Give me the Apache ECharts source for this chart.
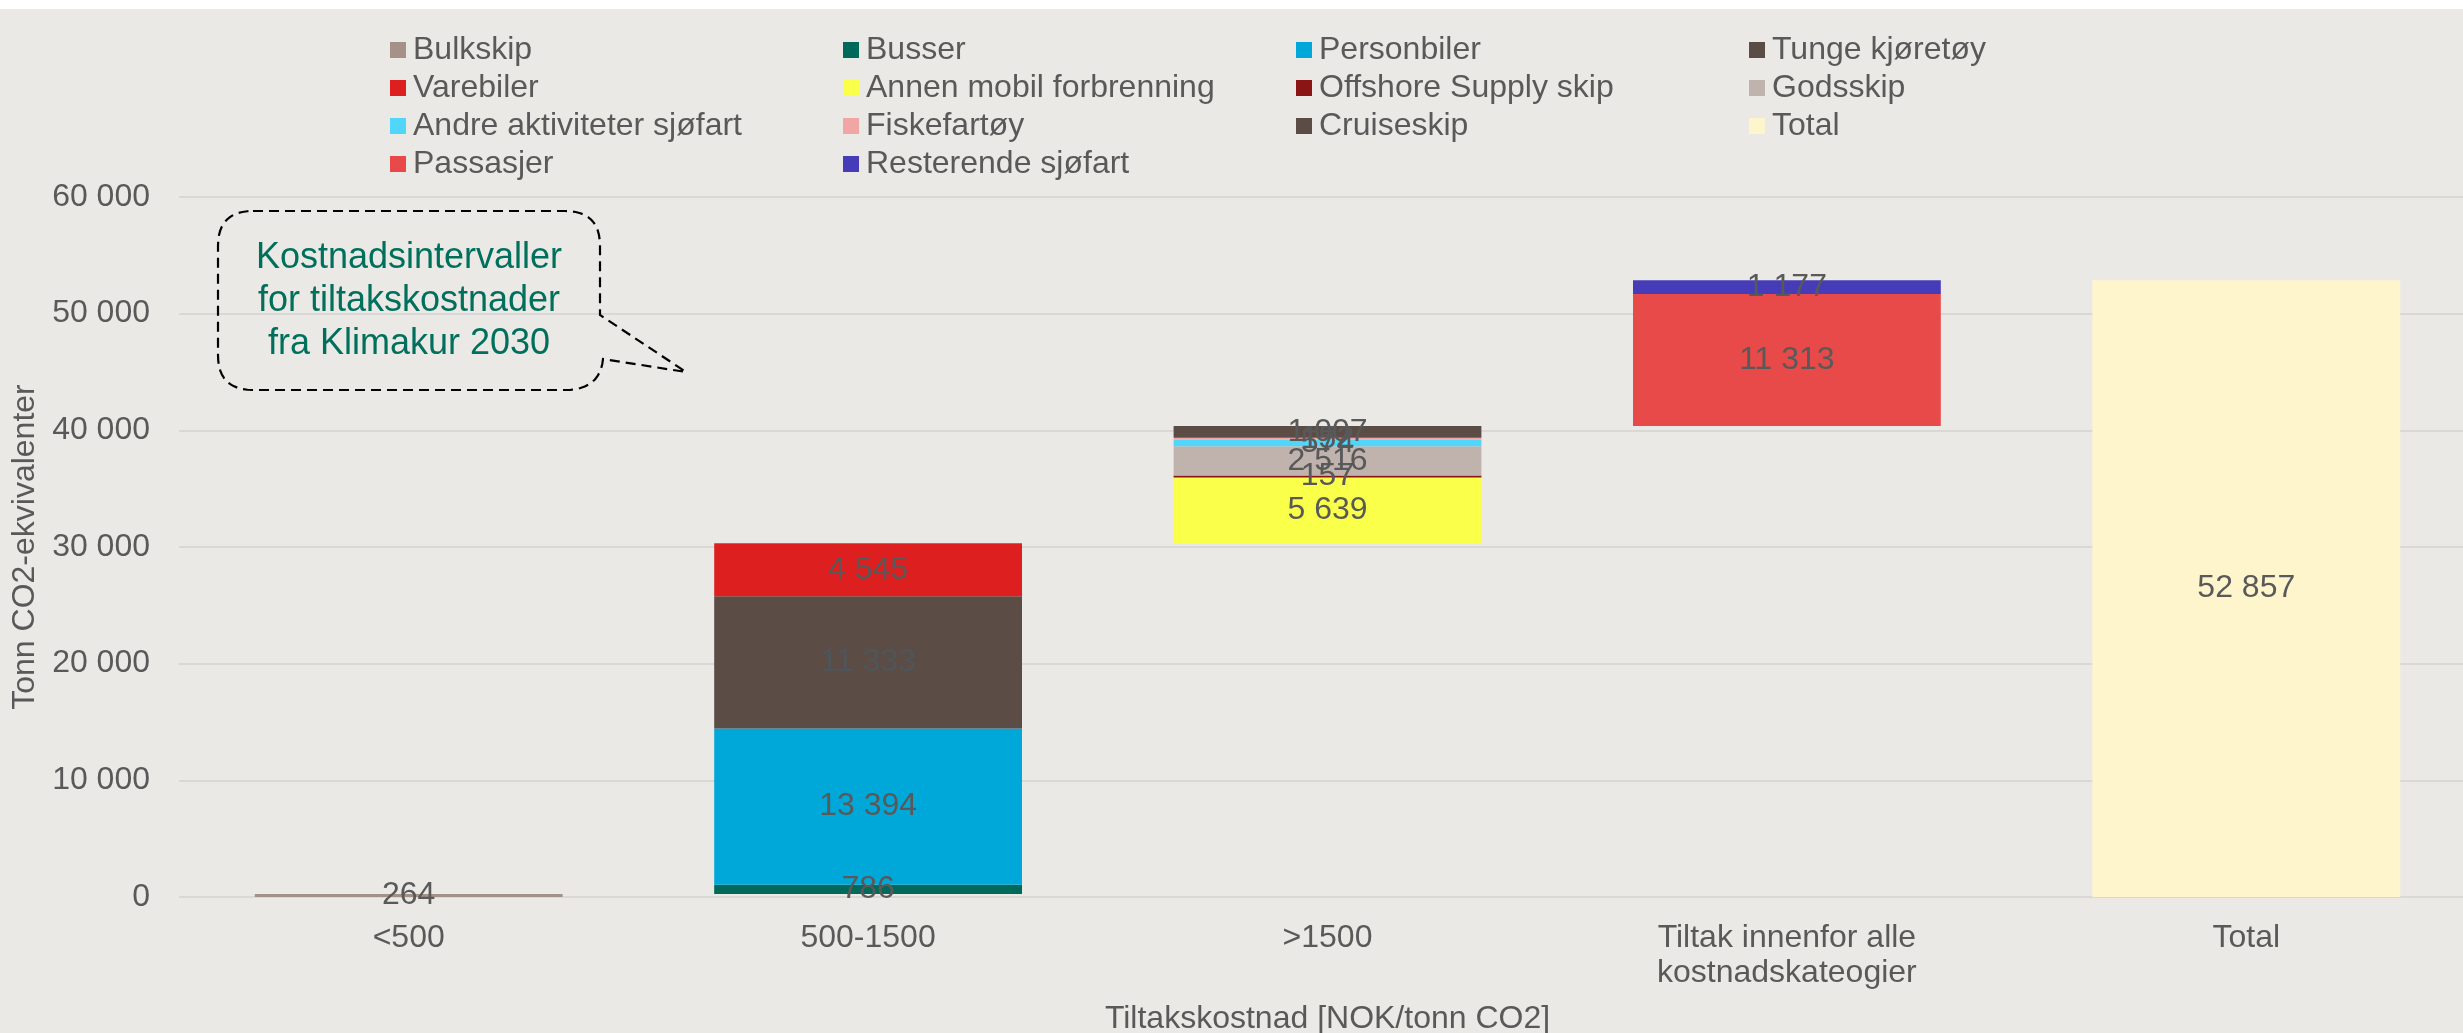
<!DOCTYPE html>
<html>
<head>
<meta charset="utf-8">
<script src="https://cdn.jsdelivr.net/npm/echarts@6/dist/echarts.min.js"></script>
<style>
html,body{margin:0;padding:0;background:#ffffff;}
#chart{width:2463px;height:1033px;}
</style>
</head>
<body>
<div id="chart"></div>
<script>
const categories = ['<500', '500-1500', '>1500', 'Tiltak innenfor alle\nkostnadskateogier', 'Total'];
const yTicks = [0, 10000, 20000, 30000, 40000, 50000, 60000];
// invisible offsets of the waterfall
const base = [0, 264, 30322, 40367, 0];
const bulkskip = [264, '-', '-', '-', '-'];
const busser = ['-', 786, '-', '-', '-'];
const personbiler = ['-', 13394, '-', '-', '-'];
const tungeKjoretoy = ['-', 11333, '-', '-', '-'];
const varebiler = ['-', 4545, '-', '-', '-'];
const annenMobil = ['-', '-', 5639, '-', '-'];
const offshoreSupply = ['-', '-', 157, '-', '-'];
const godsskip = ['-', '-', 2516, '-', '-'];
const andreAktiviteter = ['-', '-', 574, '-', '-'];
const fiskefartoy = ['-', '-', 152, '-', '-'];
const cruiseskip = ['-', '-', 1007, '-', '-'];
const passasjer = ['-', '-', '-', 11313, '-'];
const resterende = ['-', '-', '-', 1177, '-'];
const total = ['-', '-', '-', '-', 52857];

const FONT = '"Liberation Sans", Arial, sans-serif';
const TXT = '#595959';
const FS = 32;
const fmt = v => String(v).replace(/\B(?=(\d{3})+(?!\d))/g, ' ');

const seriesDefs = [
  ['Bulkskip', bulkskip, '#A69189'],
  ['Busser', busser, '#006A5A'],
  ['Personbiler', personbiler, '#00A8DA'],
  ['Tunge kjøretøy', tungeKjoretoy, '#5B4D46', '#4F555A'],
  ['Varebiler', varebiler, '#DE1F1F'],
  ['Annen mobil forbrenning', annenMobil, '#FAFF4A'],
  ['Offshore Supply skip', offshoreSupply, '#8B1414'],
  ['Godsskip', godsskip, '#C0B3AE'],
  ['Andre aktiviteter sjøfart', andreAktiviteter, '#4FD6FA'],
  ['Fiskefartøy', fiskefartoy, '#F2A5A5'],
  ['Cruiseskip', cruiseskip, '#5B4D46'],
  ['Passasjer', passasjer, '#E84A4A'],
  ['Resterende sjøfart', resterende, '#463CB8'],
  ['Total', total, '#FFF5CC']
];

const series = [{
  name: 'base', type: 'bar', stack: 'w', data: base, barWidth: '67%',
  itemStyle: { color: 'rgba(0,0,0,0)' }, label: { show: false },
  emphasis: { disabled: true }, silent: true
}];
seriesDefs.forEach(([name, data, color, lblColor]) => {
  series.push({
    name, type: 'bar', stack: 'w', data, barWidth: '67%',
    itemStyle: { color },
    emphasis: { disabled: true },
    label: {
      show: true, position: 'inside', color: lblColor || TXT,
      fontFamily: FONT, fontSize: FS,
      formatter: p => fmt(p.value)
    }
  });
});

const legendCols = [
  ['Bulkskip', 'Varebiler', 'Andre aktiviteter sjøfart', 'Passasjer'],
  ['Busser', 'Annen mobil forbrenning', 'Fiskefartøy', 'Resterende sjøfart'],
  ['Personbiler', 'Offshore Supply skip', 'Cruiseskip'],
  ['Tunge kjøretøy', 'Godsskip', 'Total']
];
const legendX = [390, 843, 1296, 1749];
const legends = legendCols.map((d, i) => ({
  data: d, orient: 'vertical', left: legendX[i], top: 33, padding: 0,
  itemWidth: 16, itemHeight: 16, itemGap: 4, icon: 'rect',
  selectedMode: false,
  textStyle: { color: TXT, fontFamily: FONT, fontSize: FS, lineHeight: 34, padding: [0, 0, 0, 2] }
}));

// callout outline (annotation shape), rounded corners sampled as quadratic curves
function calloutPoints() {
  const pts = [];
  const quad = (p0, c, p1) => {
    for (let i = 1; i <= 12; i++) {
      const t = i / 12, u = 1 - t;
      pts.push([u * u * p0[0] + 2 * u * t * c[0] + t * t * p1[0], u * u * p0[1] + 2 * u * t * c[1] + t * t * p1[1]]);
    }
  };
  const L = 218, R = 600, T = 211, B = 390, r = 35;
  pts.push([L + r, T]);
  pts.push([R - r, T]);
  quad([R - r, T], [R, T], [R, T + r]);
  pts.push([R, 315]);
  pts.push([686, 372]);
  pts.push([603, 359]);
  quad([603, 359], [600, B], [R - r, B]);
  pts.push([L + r, B]);
  quad([L + r, B], [L, B], [L, B - r]);
  pts.push([L, T + r]);
  quad([L, T + r], [L, T], [L + r, T]);
  return pts;
}

const option = {
  backgroundColor: '#EBE9E5',
  animation: false,
  textStyle: { fontFamily: FONT },
  legend: legends,
  grid: { left: 179, width: 2297, top: 197, bottom: 136, containLabel: false, outerBoundsMode: 'none' },
  xAxis: {
    type: 'category', data: categories,
    axisLine: { show: false }, axisTick: { show: false },
    axisLabel: { color: TXT, fontFamily: FONT, fontSize: FS, lineHeight: 35, margin: 24, interval: 0 },
    name: 'Tiltakskostnad [NOK/tonn CO2]', nameLocation: 'middle', nameGap: 106,
    nameTextStyle: { color: TXT, fontFamily: FONT, fontSize: FS }
  },
  yAxis: {
    type: 'value', min: yTicks[0], max: yTicks[yTicks.length - 1], interval: yTicks[1] - yTicks[0],
    axisLine: { show: false }, axisTick: { show: false },
    splitLine: { lineStyle: { color: '#D9D8D6', width: 2 } },
    axisLabel: { color: TXT, fontFamily: FONT, fontSize: FS, margin: 29, formatter: v => fmt(v) },
    name: 'Tonn CO2-ekvivalenter', nameLocation: 'middle', nameGap: 133, nameRotate: 90,
    nameTextStyle: { color: TXT, fontFamily: FONT, fontSize: FS }
  },
  graphic: [
    { type: 'rect', shape: { x: 0, y: 0, width: 2463, height: 9 }, style: { fill: '#ffffff' }, silent: true, z: 100 },
    { type: 'polyline', shape: { points: calloutPoints() }, style: { fill: null, stroke: '#000000', lineWidth: 2.2, lineDash: [10, 6] }, silent: true, z: 50 },
    { type: 'text', x: 409, y: 301, silent: true, z: 51,
      style: { text: 'Kostnadsintervaller\nfor tiltakskostnader\nfra Klimakur 2030', fill: '#00705C', font: '36px "Liberation Sans", Arial, sans-serif', lineHeight: 43, align: 'center', verticalAlign: 'middle' } }
  ],
  series
};
const chart = echarts.init(document.getElementById('chart'), null, { renderer: 'canvas' });
chart.setOption(option);
</script>
</body>
</html>
